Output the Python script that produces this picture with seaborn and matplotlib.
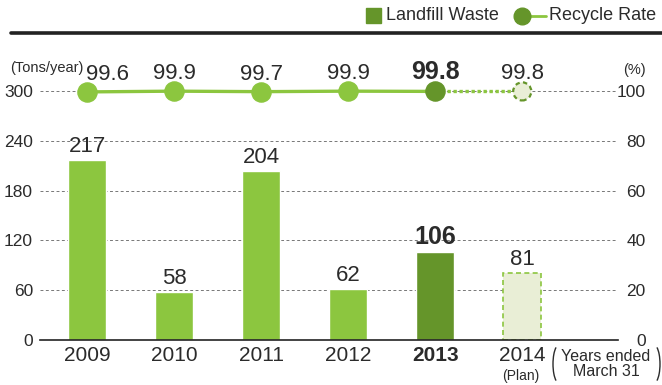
import matplotlib
matplotlib.use("Agg")
import matplotlib.pyplot as plt
import seaborn as sns
import pandas as pd
from matplotlib.lines import Line2D
from matplotlib.patches import Rectangle, Arc

# Fiscal years (ended March 31)
years = ["2009", "2010", "2011", "2012", "2013", "2014"]
landfill_waste = [217, 58, 204, 62, 106, 81]          # tons/year
recycle_rate = [99.6, 99.9, 99.7, 99.9, 99.8, 99.8]   # percent
left_ticks = [0, 60, 120, 180, 240, 300]
right_ticks = [0, 20, 40, 60, 80, 100]

LIGHT = "#8cc63f"
DARK = "#65952a"
PLAN = "#e9eed6"
TEXT = "#2b2b2b"

sns.set_theme(style="white")
plt.rcParams["font.family"] = ["Liberation Sans Narrow", "Liberation Sans", "DejaVu Sans"]

W, H = 662, 385
fig = plt.figure(figsize=(W / 100, H / 100), dpi=100)


def fx(px):
    return px / W


def fy(py):
    return 1 - py / H


# axes frame in pixel units
x0, x1, yb, yt = 40, 618, 340, 66
ax = fig.add_axes([fx(x0), fy(yb), (x1 - x0) / W, (yb - yt) / H])

df = pd.DataFrame({"year": years, "waste": landfill_waste})
colors = [LIGHT, LIGHT, LIGHT, LIGHT, DARK, PLAN]
sns.barplot(data=df, x="year", y="waste", hue="year", palette=colors,
            legend=False, width=0.44, ax=ax, saturation=1)
plan_bar = ax.patches[5]
plan_bar.set_edgecolor(LIGHT)
plan_bar.set_linestyle((0, (3, 2)))
plan_bar.set_linewidth(1.2)

ax.set_ylim(0, 330)
ax.set_xlim(-0.54, 6.10)
ax.set_yticks(left_ticks)
for t in left_ticks[1:]:
    ax.axhline(t, color="#777777", lw=0.7, ls=(0, (3, 2.5)), zorder=0)
for s in ["top", "right", "left"]:
    ax.spines[s].set_visible(False)
ax.spines["bottom"].set_color("#222222")
ax.spines["bottom"].set_linewidth(1.2)
ax.tick_params(axis="y", length=0, pad=5, labelsize=12.5, labelcolor=TEXT)
ax.tick_params(axis="x", length=0, pad=4, labelsize=15, labelcolor=TEXT)
ax.set_xlabel("")
ax.set_ylabel("")
for lbl in ax.get_xticklabels():
    if lbl.get_text() == "2013":
        lbl.set_fontweight("bold")

for i, v in enumerate(landfill_waste):
    bold = years[i] == "2013"
    ax.text(i, v + 3, str(v), ha="center", va="bottom", color=TEXT,
            fontsize=18 if bold else 16, fontweight="bold" if bold else "normal")

# recycle rate on the right-hand scale
ax2 = ax.twinx()
ax2.set_ylim(0, 110)
ax2.set_yticks(right_ticks)
for s in ax2.spines.values():
    s.set_visible(False)
ax2.tick_params(axis="y", length=0, pad=20, labelsize=12.5, labelcolor=TEXT)
for lbl in ax2.get_yticklabels():
    lbl.set_horizontalalignment("right")
ax2.grid(False)

idx = list(range(len(years)))
sns.lineplot(x=idx[:5], y=recycle_rate[:5], color=LIGHT, lw=2.4, ax=ax2, zorder=2)
ax2.plot(idx[4:], recycle_rate[4:], color=LIGHT, lw=2.4, ls=(0, (1, 0.8)), zorder=2)
ax2.scatter(idx[:4], recycle_rate[:4], s=190, color=LIGHT, zorder=3)
ax2.scatter([idx[4]], [recycle_rate[4]], s=190, color=DARK, zorder=3)
ax2.scatter([idx[5]], [recycle_rate[5]], s=170, facecolor=PLAN, edgecolor=DARK,
            linewidths=1.6, linestyles=(0, (2, 1.5)), zorder=3)
for i, v in enumerate(recycle_rate):
    bold = years[i] == "2013"
    dx = 0.24 if i == 0 else 0.0
    ax2.text(i + dx, v + 2.8, f"{v:.1f}", ha="center", va="bottom", color=TEXT,
             fontsize=18 if bold else 16, fontweight="bold" if bold else "normal")

# unit labels and footnotes
fig.text(fx(10), fy(68), "(Tons/year)", fontsize=10.5, color=TEXT, va="center")
fig.text(fx(646), fy(70), "(%)", fontsize=10.5, color=TEXT, ha="right", va="center")
fig.text(fx(521), fy(376), "(Plan)", fontsize=10, color=TEXT, ha="center", va="center")
fig.text(fx(606), fy(364), "Years ended\nMarch 31", fontsize=11.5, color=TEXT,
         ha="center", va="center", linespacing=0.95)
# thin tall brackets around the footnote
inch = fig.dpi_scale_trans
for cx, t1, t2 in [(559, 100, 260), (654, -80, 80)]:
    fig.add_artist(Arc((cx / 100, (H - 364) / 100), 0.12, 0.38, theta1=t1, theta2=t2,
                       transform=inch, color=TEXT, lw=1.0))

# header rule and legend
fig.add_artist(Line2D([fx(11), 1.0], [fy(33), fy(33)], color="#222222", lw=2.6))
fig.add_artist(Rectangle((fx(366), fy(23)), 15 / W, 15 / H, color=DARK))
fig.text(fx(386), fy(16), "Landfill Waste", fontsize=13, color=TEXT, va="center")
fig.add_artist(Line2D([fx(522), fx(546)], [fy(16), fy(16)], color=LIGHT, lw=2))
fig.add_artist(Line2D([fx(522)], [fy(16)], marker="o", color=DARK, markersize=12))
fig.text(fx(549), fy(16), "Recycle Rate", fontsize=13, color=TEXT, va="center")

fig.savefig("out.png", dpi=100)
